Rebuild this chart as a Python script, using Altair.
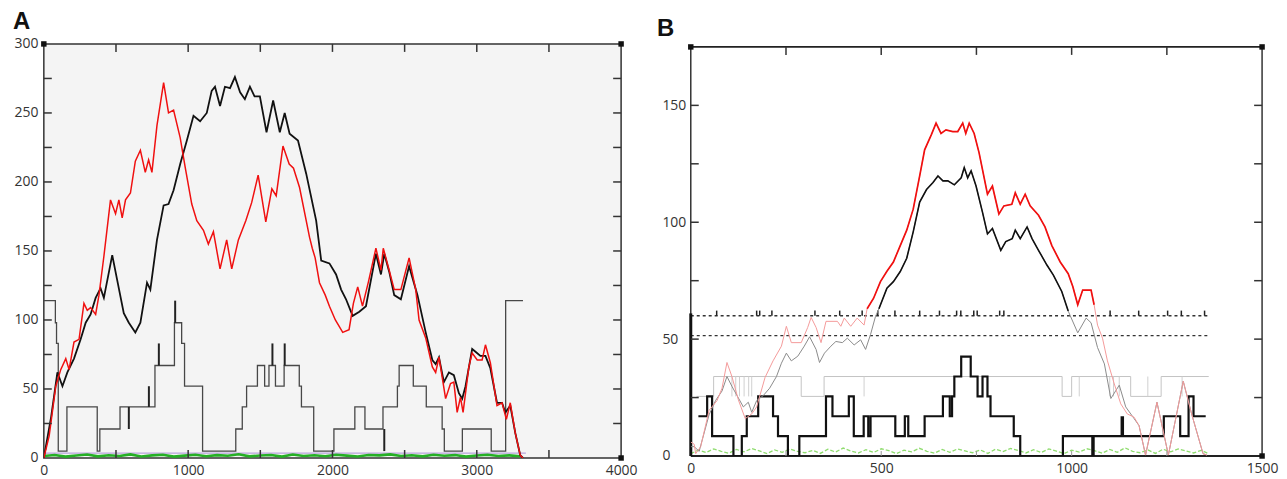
import altair as alt
import pandas as pd

# ---------------- Panel A data ----------------
a_red_x = [0, 37, 83, 117, 152, 175, 209, 244, 278, 301, 324, 359, 382, 416, 462, 497, 520, 543, 566, 600,
           634, 669, 703, 726, 749, 784, 830, 864, 899, 945, 979, 1025, 1060, 1106, 1140, 1175, 1221, 1267,
           1302, 1348, 1400, 1440, 1485, 1538, 1580, 1610, 1657, 1700, 1730, 1772, 1841, 1860, 1880, 1910,
           1950, 1979, 2020, 2071, 2115, 2145, 2175, 2208, 2250, 2301, 2336, 2352, 2393, 2428, 2474, 2531,
           2577, 2600, 2646, 2692, 2715, 2738, 2784, 2818, 2841, 2864, 2887, 2905, 2945, 2968, 3003, 3037,
           3060, 3094, 3140, 3175, 3205, 3232, 3267, 3301, 3320]
a_red_y = [0, 16, 52, 64, 72, 64, 84, 86, 112, 107, 109, 104, 118, 146, 187, 177, 187, 174, 187, 192,
           215, 223, 207, 216, 207, 241, 272, 250, 252, 232, 211, 184, 172, 165, 155, 164, 137, 158,
           137, 158, 172, 185, 205, 171, 195, 190, 226, 213, 210, 196, 160, 152, 145, 127,
           118, 110, 100, 91, 93, 112, 124, 110, 128, 152, 136, 152, 136, 122, 122, 145,
           122, 100, 87, 66, 62, 73, 43, 54, 55, 33, 44, 33, 66, 76, 71, 71,
           82, 69, 38, 40, 28, 40, 18, 2, 0]

a_blk_x = [0, 51, 94, 129, 163, 209, 255, 290, 324, 359, 393, 416, 474, 508, 554, 589, 634, 669, 715, 738,
           784, 830, 864, 899, 945, 991, 1037, 1083, 1129, 1163, 1186, 1221, 1255, 1290, 1324, 1360, 1393,
           1428, 1460, 1497, 1543, 1589, 1635, 1669, 1703, 1761, 1818, 1887, 1922, 1979, 2025, 2060, 2094,
           2140, 2186, 2232, 2301, 2336, 2359, 2393, 2428, 2474, 2531, 2589, 2646, 2692, 2715, 2738, 2772,
           2807, 2841, 2876, 2899, 2922, 2968, 2991, 3025, 3060, 3094, 3140, 3175, 3198, 3232, 3267, 3301, 3320]
a_blk_y = [0, 30, 62, 52, 62, 72, 86, 98, 104, 116, 123, 116, 147, 129, 105, 98, 91, 98, 127, 122,
           158, 183, 184, 194, 213, 230, 248, 244, 250, 266, 269, 255, 269, 268, 276, 265, 260,
           269, 262, 262, 236, 259, 236, 250, 235, 230, 206, 172, 143, 141, 133, 122, 115,
           103, 106, 110, 148, 133, 148, 135, 118, 115, 139, 118, 91, 71, 68, 73, 55,
           62, 60, 47, 43, 52, 79, 77, 74, 74, 65, 40, 40, 33, 38, 18, 2, 0]

a_step_x = [0, 80, 88, 100, 160, 370, 388, 528, 770, 905, 955, 975, 1100, 1330, 1375, 1405, 1480, 1530,
            1560, 1605, 1665, 1770, 1785, 1870, 2010, 2155, 2225, 2350, 2450, 2462, 2560, 2650, 2760,
            2775, 2900, 3100, 3200, 3320]
a_step_y = [114, 98, 83, 5, 37, 5, 21, 37, 67, 98, 83, 52, 5, 21, 37, 52, 67, 52,
            67, 52, 67, 52, 37, 5, 21, 37, 21, 37, 52, 67, 52, 37, 21,
            5, 21, 5, 114, 114]
a_spike_x = [589, 728, 797, 910, 1584, 1669, 2359]
a_spike_lo = [21, 37, 67, 98, 67, 67, 5]
a_spike_hi = [37, 52, 83, 114, 83, 83, 21]

a_green_y = [1.5, 2.2, 1.0, 1.8, 2.5, 1.2, 2.0, 1.4, 2.6, 1.1,
             1.9, 2.3, 1.0, 1.7, 2.4, 1.3, 2.1, 1.6, 2.7, 1.2,
             1.8, 2.2, 1.0, 2.5, 1.5, 2.0, 1.3, 2.4, 1.7, 1.1,
             2.2, 1.9, 2.6, 1.4, 2.0, 1.2, 2.3, 1.6, 2.1, 1.0,
             1.8, 2.4, 1.5, 1.9, 1.2]
a_green_x = list(range(0, 3301, 75))
a_purple_x = [0, 3340]
a_purple_y = [3.5, 3.5]

a_xlabels = [0, 1000, 2000, 3000, 4000]
a_ylabels = [0, 50, 100, 150, 200, 250, 300]
a_xticks = [500, 1000, 1500, 2000, 2500, 3000, 3500]
a_yticks = [25, 50, 75, 100, 125, 150, 175, 200, 225, 250, 275]
a_corner_x = [0, 4000, 4000]
a_corner_y = [300, 300, 0]

# ---------------- Panel B data ----------------
b_red_x = [0, 9, 13, 26, 48, 69, 82, 95, 108, 125, 143, 160, 173, 195, 216, 238, 251, 264, 290, 307,
           316, 329, 342, 355, 385, 394, 403, 420, 437, 455, 463, 480, 498, 515, 532, 550, 567, 584,
           601, 614, 632, 644, 657, 670, 688, 701, 714, 722, 731, 744, 757, 779, 792, 809, 822, 843,
           852, 865, 878, 891, 913, 930, 948, 970, 991, 1003, 1016, 1029, 1051, 1059, 1068, 1081, 1094,
           1112, 1129, 1146, 1164, 1177, 1194, 1224, 1254, 1293, 1315, 1345, 1355]
b_red_y = [6, 5, 1, 4, 19.5, 23.7, 29, 40, 34, 24, 16, 18, 21, 33.6, 40.7, 47, 55.5, 48.5, 48.5, 55,
           59.3, 55, 48.5, 57.6, 57.6, 55.5, 59, 55.5, 59, 56, 63, 67.5, 74.6, 79, 83, 90, 96.6, 105.6,
           119.8, 131, 137.6, 142.4, 138, 139.5, 138.8, 138.8, 142.4, 138, 142.4, 138, 129.7, 112, 115.5,
           103.5, 107, 107.7, 112.6, 107.7, 112, 107, 103, 98, 90, 83, 78, 72.5, 64.7, 71, 71, 64.7,
           56, 50.4, 40.7, 30.8, 22.3, 18, 16.6, 13, 0.4, 23, 0.4, 32, 18, 1, 0.4]

b_blk_x = [0, 9, 22, 48, 65, 82, 95, 108, 121, 138, 151, 160, 173, 190, 207, 225, 238, 251, 264, 281,
           298, 312, 329, 338, 351, 368, 381, 398, 411, 429, 446, 459, 472, 485, 494, 515, 532, 550,
           567, 584, 601, 619, 636, 649, 662, 675, 692, 710, 718, 727, 736, 749, 766, 779, 792, 814,
           827, 844, 852, 865, 883, 896, 913, 935, 952, 974, 991, 1016, 1038, 1051, 1068, 1086, 1103,
           1125, 1142, 1164, 1177, 1194, 1224, 1254, 1293, 1315, 1345, 1355]
b_blk_y = [4, 4, 2, 17.6, 23.7, 27.8, 34, 29.8, 26, 21, 23, 18.7, 23.7, 25.8, 29, 34, 39.7, 44, 40.7,
           42.7, 47, 51, 45.6, 40, 44, 47, 49, 48.5, 50.4, 47.5, 49.7, 45.6, 52, 59.7, 63, 71.8, 74.6,
           78.9, 84.6, 95.9, 108.6, 114, 117, 119.8, 117.7, 117.7, 116, 119, 123.4, 119, 122, 115.5,
           104.2, 95, 97.3, 88, 91.7, 93, 96.6, 93, 98, 93, 88, 81.7, 77.4, 70.4, 62, 52.7, 59, 57,
           46.4, 39.4, 24.6, 30.3, 21, 16, 13, 0.4, 23, 0.4, 32, 18, 1, 0.4]

b_step_x = [20, 43, 56, 112, 134, 147, 177, 216, 229, 255, 285, 355, 372, 415, 428, 454, 466, 472, 537,
            562, 571, 614, 662, 680, 686, 692, 710, 735, 753, 766, 779, 787, 848, 865, 977, 1242, 1285,
            1307, 1320, 1352]
b_step_y = [17, 25.5, 8.5, 0, 8.5, 17, 25.5, 17, 8.5, 0, 8.5, 25.5, 17, 25.5, 8.5, 17, 8.5, 17, 8.5,
            17, 8.5, 17, 25.5, 17, 25.5, 34, 42.5, 34, 25.5, 34, 25.5, 17, 8.5, 0, 8.5, 17, 8.5,
            25.5, 17, 17]
b_spike_x = [1056, 1133]
b_spike_lo = [0, 8.5]
b_spike_hi = [8.5, 17]
b_leftbar = [0, 61]

b_gray_x = [15, 60, 290, 350, 975, 1000, 1155, 1235, 1360]
b_gray_y = [25.5, 34, 25.5, 34, 25.5, 34, 25.5, 34, 34]
b_gray_ticks = [108, 118, 128, 140, 152, 160, 455, 1020, 1100, 1110, 1125, 1200, 1290]

b_dot_levels = [60, 51.5]
b_dot_x = [0, 1360]
b_mark_x = [68, 173, 181, 213, 326, 391, 450, 491, 536, 601, 653, 698, 709, 743, 752, 811, 822,
            1101, 1176, 1252, 1288, 1349]

b_green_y = [1.0, 2.5, 1.5, 3.0, 2.0, 1.2, 2.8, 1.8, 3.2, 2.2,
             1.0, 2.6, 1.6, 3.0, 2.0, 1.4, 2.4, 1.1, 2.9, 1.7,
             3.4, 2.1, 1.3, 2.7, 1.5, 3.1, 2.3, 1.0, 2.5, 1.8,
             3.3, 2.0, 1.2, 2.8, 1.6, 3.0, 2.2, 1.4, 2.6, 1.1,
             2.9, 1.9, 3.2, 2.4, 1.3, 2.7, 1.5, 3.0, 2.1, 1.0,
             2.5, 1.7, 3.1, 2.3, 1.2, 2.8, 1.6, 3.5, 2.0, 1.4,
             2.6, 1.1, 2.9, 1.8, 3.0, 2.2, 1.3, 2.4, 1.0]
b_green_x = list(range(0, 1361, 20))

b_xlabels = [0, 500, 1000, 1500]
b_ylabels = [0, 50, 100, 150]
b_xticks = [250, 500, 750, 1000, 1250]
b_yticks = [25, 50, 75, 100, 125, 150]
b_xdomain = [0, 1500]
b_ydomain = [0, 175]
b_corner_x = [0, 1500, 1500]
b_corner_y = [175, 175, 0]

# ---------------- helpers ----------------
FONT = "Open Sans"


def axis(values, align=None, pad=6, extent=None):
    kw = dict(values=values, format="d", ticks=False, tickSize=0, domain=False, grid=False, title=None,
              labelFont=FONT, labelFontSize=14, labelColor="#333", labelPadding=pad,
              labelFlush=False, labelOverlap=False)
    if align:
        kw["labelAlign"] = align
    if extent is not None:
        kw["minExtent"] = extent
        kw["maxExtent"] = extent
    return alt.Axis(**kw)


def xy(xs, ys):
    return pd.DataFrame({"x": xs, "y": ys})


def panel(xs, ys, xax, yax, W, H, layers_spec, title, dx, offset, fill, stroke):
    X = lambda f: alt.X(f, type="quantitative", scale=xs, axis=xax)
    Y = lambda f: alt.Y(f, type="quantitative", scale=ys, axis=yax)
    layers = []
    for kind, df, opts in layers_spec:
        if kind == "line":
            m = alt.Chart(df).mark_line(clip=True, **opts.get("mark", {}))
            if "filter" in opts:
                m = m.transform_filter(opts["filter"])
            layers.append(m.encode(x=X("x"), y=Y("y")))
        elif kind == "vrule":  # vertical segments in data space
            m = alt.Chart(df).mark_rule(**opts.get("mark", {}))
            layers.append(m.encode(x=X("x"), y=Y("lo"), y2=alt.Y2("hi")))
        elif kind == "hline":
            m = alt.Chart(df).mark_rule(**opts.get("mark", {}))
            layers.append(m.encode(x=X("x0"), x2=alt.X2("x1"), y=Y("y")))
        elif kind == "xtick":
            m = alt.Chart(df).mark_rule(**opts.get("mark", {}))
            layers.append(m.encode(x=X("t"), y=alt.value(opts["p0"]), y2=alt.value(opts["p1"])))
        elif kind == "ytick":
            m = alt.Chart(df).mark_rule(**opts.get("mark", {}))
            layers.append(m.encode(y=Y("t"), x=alt.value(opts["p0"]), x2=alt.value(opts["p1"])))
        elif kind == "square":
            m = alt.Chart(df).mark_square(clip=False, **opts.get("mark", {}))
            layers.append(m.encode(x=X("x"), y=Y("y")))
    return alt.layer(*layers).properties(
        width=W, height=H,
        title=alt.TitleParams(title, anchor="start", frame="group", dx=dx, offset=offset,
                              fontSize=24, font="Liberation Sans", fontWeight="bold", color="#111"),
        view=alt.ViewBackground(fill=fill, stroke=stroke, strokeWidth=1.5),
    )


TK = {"color": "#333", "strokeWidth": 1.5}

# ---------------- Panel A ----------------
WA, HA = 580, 416
xsA = alt.Scale(domain=[0, 4000], nice=False, zero=False)
ysA = alt.Scale(domain=[0, 300], nice=False, zero=False)
xaxA = axis(a_xlabels, pad=6)
yaxA = axis(a_ylabels, align="right", pad=6, extent=35)

a_ticks_x = pd.DataFrame({"t": a_xticks})
a_ticks_y = pd.DataFrame({"t": a_yticks})

specA = [
    ("line", xy(a_purple_x, a_purple_y), {"mark": {"color": "#b9a3dc", "strokeWidth": 1.2}}),
    ("line", xy(a_green_x, a_green_y), {"mark": {"color": "#25b025", "strokeWidth": 2.6}}),
    ("line", xy(a_step_x, a_step_y), {"mark": {"color": "#474747", "strokeWidth": 1.3,
                                               "interpolate": "step-after"}}),
    ("vrule", pd.DataFrame({"x": a_spike_x, "lo": a_spike_lo, "hi": a_spike_hi}),
     {"mark": {"color": "#222", "strokeWidth": 2}}),
    ("line", xy(a_blk_x, a_blk_y), {"mark": {"color": "#111", "strokeWidth": 1.8}}),
    ("line", xy(a_red_x, a_red_y), {"mark": {"color": "#f01010", "strokeWidth": 1.5}}),
    ("xtick", a_ticks_x, {"mark": TK, "p0": 0, "p1": 8}),
    ("xtick", a_ticks_x, {"mark": TK, "p0": HA, "p1": HA - 8}),
    ("ytick", a_ticks_y, {"mark": TK, "p0": 0, "p1": 8}),
    ("ytick", a_ticks_y, {"mark": TK, "p0": WA - 8, "p1": WA}),
    ("square", xy(a_corner_x, a_corner_y), {"mark": {"color": "#111", "size": 30, "opacity": 1}}),
]
chartA = panel(xsA, ysA, xaxA, yaxA, WA, HA, specA, "A", -31, 3, "#f4f4f4", "#333")

# ---------------- Panel B ----------------
WB, HB = 574, 414
TOPB = 3  # the panel's frame starts a few pixels below panel A's
xsB = alt.Scale(domain=b_xdomain, nice=False, zero=False)
ysB = alt.Scale(domain=b_ydomain, nice=False, zero=False, range=[HB, TOPB])
xaxB = axis(b_xlabels, pad=6)
yaxB = axis(b_ylabels, align="left", pad=29, extent=36)

b_ticks_x = pd.DataFrame({"t": b_xticks})
b_ticks_y = pd.DataFrame({"t": b_yticks})
dots = pd.DataFrame({"x0": [b_dot_x[0]] * len(b_dot_levels), "x1": [b_dot_x[1]] * len(b_dot_levels),
                     "y": b_dot_levels})
marks = pd.DataFrame({"x": b_mark_x, "lo": [60] * len(b_mark_x), "hi": [62.2] * len(b_mark_x)})
gticks = pd.DataFrame({"x": b_gray_ticks, "lo": [25.5] * len(b_gray_ticks), "hi": [34] * len(b_gray_ticks)})
frame_h = pd.DataFrame({"x0": [b_xdomain[0]] * 2, "x1": [b_xdomain[1]] * 2, "y": b_ydomain})
frame_v = pd.DataFrame({"x": b_xdomain, "lo": [b_ydomain[0]] * 2, "hi": [b_ydomain[1]] * 2})

specB = [
    ("hline", frame_h, {"mark": {"color": "#222", "strokeWidth": 1.8}}),
    ("vrule", frame_v, {"mark": {"color": "#333", "strokeWidth": 1.5}}),
    ("line", xy(b_green_x, b_green_y), {"mark": {"color": "#8fdc6e", "strokeWidth": 1.3,
                                                 "strokeDash": [4, 2]}}),
    ("line", xy(b_gray_x, b_gray_y), {"mark": {"color": "#c4c4c4", "strokeWidth": 1,
                                               "interpolate": "step-after"}}),
    ("vrule", gticks, {"mark": {"color": "#d0d0d0", "strokeWidth": 1}}),
    ("hline", dots, {"mark": {"color": "#333", "strokeWidth": 1.3, "strokeDash": [3, 3]}}),
    ("vrule", marks, {"mark": {"color": "#222", "strokeWidth": 1.5}}),
    ("line", xy(b_step_x, b_step_y), {"mark": {"color": "#111", "strokeWidth": 2.2,
                                               "interpolate": "step-after"}}),
    ("vrule", pd.DataFrame({"x": b_spike_x, "lo": b_spike_lo, "hi": b_spike_hi}),
     {"mark": {"color": "#111", "strokeWidth": 3.5}}),
    ("vrule", pd.DataFrame({"x": [0], "lo": [b_leftbar[0]], "hi": [b_leftbar[1]]}),
     {"mark": {"color": "#111", "strokeWidth": 3}}),
    ("line", xy(b_blk_x, b_blk_y), {"mark": {"color": "#8a8a8a", "strokeWidth": 1}}),
    ("line", xy(b_blk_x, b_blk_y), {"mark": {"color": "#111", "strokeWidth": 1.6},
                                    "filter": "datum.y >= 60"}),
    ("line", xy(b_red_x, b_red_y), {"mark": {"color": "#f49a9a", "strokeWidth": 1}}),
    ("line", xy(b_red_x, b_red_y), {"mark": {"color": "#f01010", "strokeWidth": 1.7},
                                    "filter": "datum.y >= 60"}),
    ("xtick", b_ticks_x, {"mark": TK, "p0": TOPB, "p1": TOPB + 8}),
    ("xtick", b_ticks_x, {"mark": {"color": "#999", "strokeWidth": 1}, "p0": HB, "p1": HB - 5}),
    ("ytick", b_ticks_y, {"mark": TK, "p0": 0, "p1": 8}),
    ("ytick", b_ticks_y, {"mark": TK, "p0": WB - 8, "p1": WB}),
    ("square", xy(b_corner_x, b_corner_y), {"mark": {"color": "#111", "size": 30, "opacity": 1}}),
]
chartB = panel(xsB, ysB, xaxB, yaxB, WB, HB, specB, "B", -34, 3, "#ffffff", "transparent")

chart = alt.hconcat(chartA, chartB, spacing=16).properties(
    padding={"left": 0, "top": 0, "right": 0, "bottom": 0}
).configure(background="#ffffff")

chart.save("out.html", embed_options={"renderer": "svg", "actions": False})
